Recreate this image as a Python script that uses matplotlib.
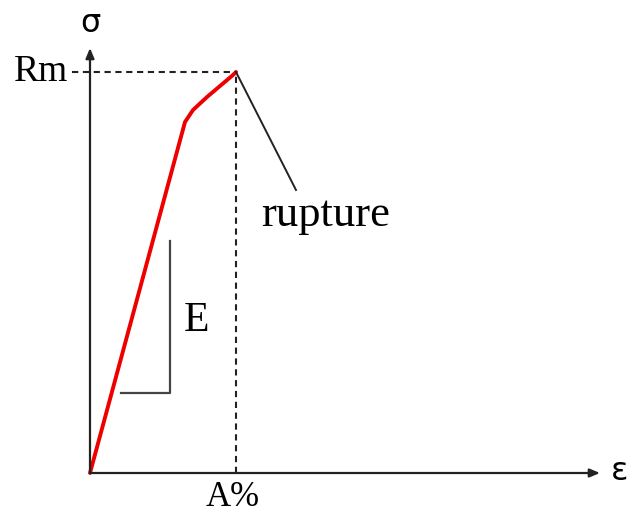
import matplotlib
matplotlib.use("Agg")
import matplotlib.pyplot as plt

# stress-strain curve (arbitrary units)
strain = [0.0, 0.95, 1.03, 1.17, 1.30, 1.43, 1.46]
stress = [0.0, 3.51, 3.63, 3.76, 3.87, 3.98, 4.01]

# rupture pointer
rupture_line_x = [1.46, 2.06]
rupture_line_y = [4.01, 2.83]

# slope triangle for E
tri_x = [0.31, 0.80, 0.80]
tri_y = [0.80, 0.80, 2.32]

rm = stress[-1]
a_pct = strain[-1]

fig = plt.figure(figsize=(6.32, 5.15), dpi=100)
ax = fig.add_axes([0, 0, 1, 1])
ax.set_xlim(-0.9, 5.42)
ax.set_ylim(-0.42, 4.73)
ax.axis("off")

# axes with arrows
arrow = dict(arrowstyle="-|>,head_length=0.6,head_width=0.25", color="#222222",
             lw=1.6, shrinkA=0, shrinkB=0)
ax.annotate("", xy=(5.10, 0), xytext=(0, 0), arrowprops=arrow)
ax.annotate("", xy=(0, 4.25), xytext=(0, 0), arrowprops=arrow)

# dashed guides
ax.plot([-0.18, a_pct], [rm, rm], ls=(0, (3, 2.2)), color="#222222", lw=1.5)
ax.plot([a_pct, a_pct], [0, rm], ls=(0, (3, 2.2)), color="#222222", lw=1.5)

ax.plot(strain, stress, color="#ee0000", lw=2.8, solid_capstyle="round",
        solid_joinstyle="round")
ax.plot(rupture_line_x, rupture_line_y, color="#222222", lw=1.4)
ax.plot(tri_x, tri_y, color="#444444", lw=1.6)

serif = "Liberation Serif"
ax.text(0, 4.50, "σ", fontsize=23, ha="center", va="center", family="DejaVu Sans")
ax.text(5.30, 0.01, "ε", fontsize=23, ha="center", va="center", family="DejaVu Sans")
ax.text(-0.22, rm, "Rm", fontsize=27, ha="right", va="center", family=serif)
ax.text(a_pct - 0.03, -0.25, "A%", fontsize=25, ha="center", va="center", family=serif)
ax.text(1.71, 2.58, "rupture", fontsize=32, ha="left", va="center", family=serif)
ax.text(1.07, 1.52, "E", fontsize=30, ha="center", va="center", family=serif)

fig.savefig("out.png", dpi=100)
